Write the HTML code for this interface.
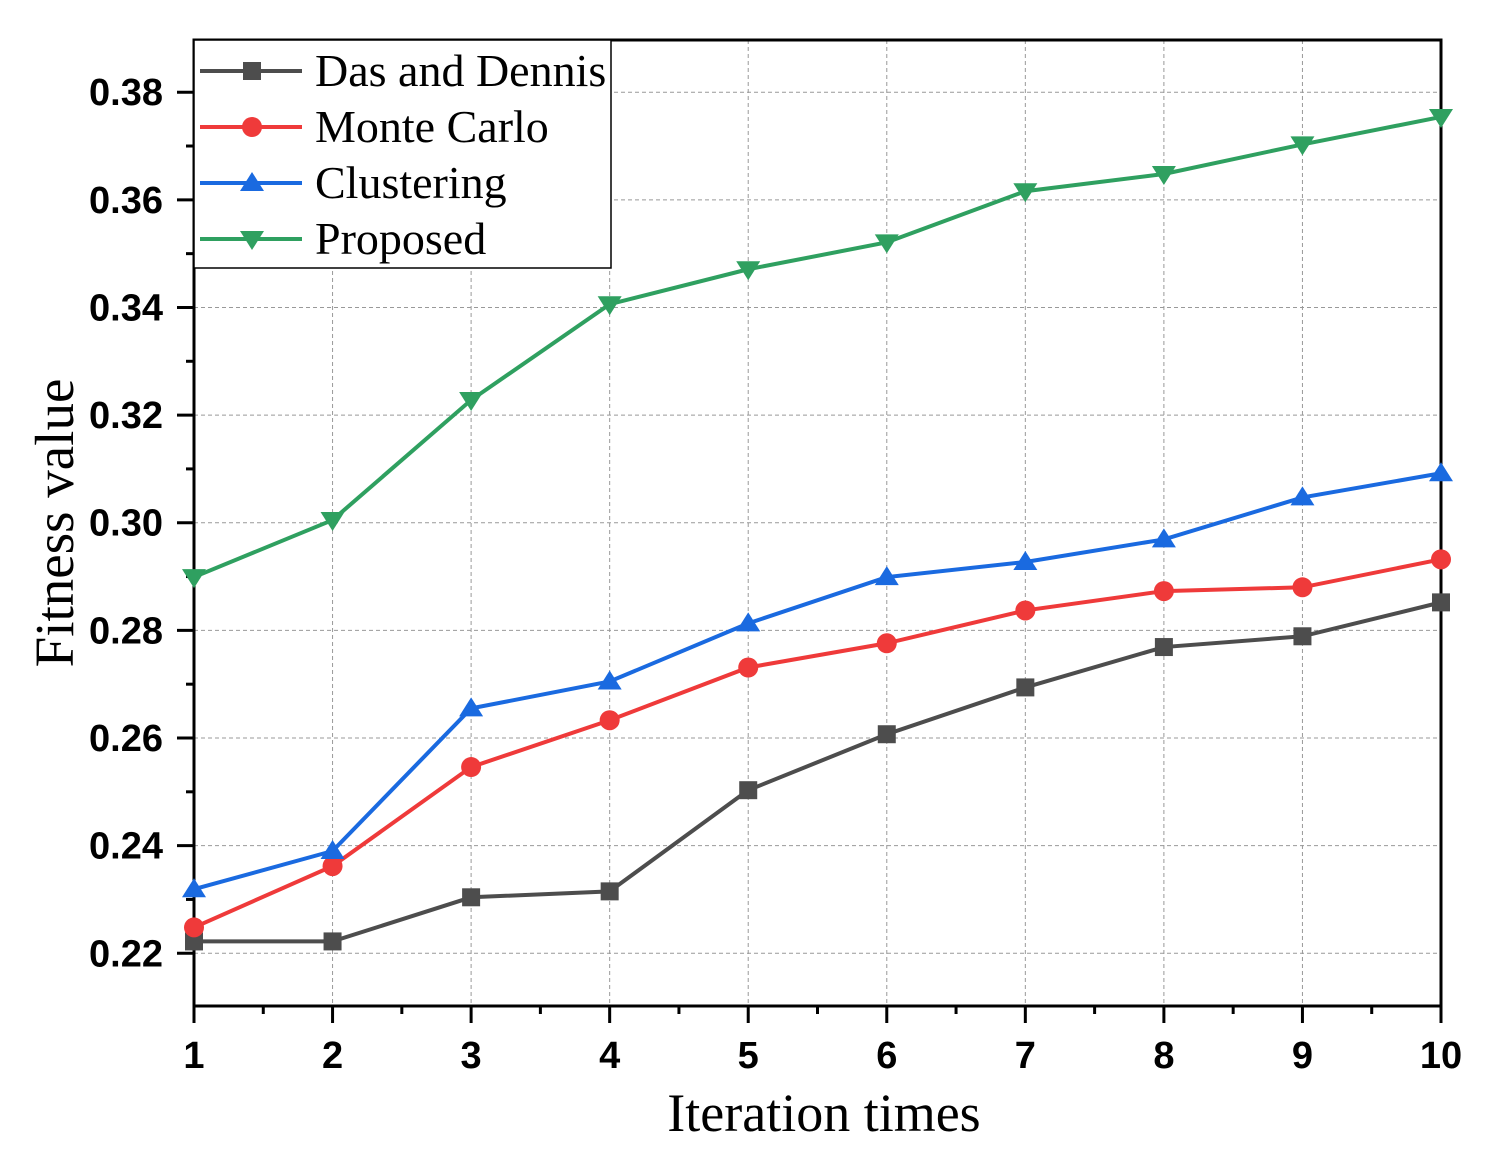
<!DOCTYPE html>
<html><head><meta charset="utf-8"><style>
html,body{margin:0;padding:0;background:#fff;}
svg{display:block;}
</style></head><body>
<svg id="chart" width="1487" height="1168" xmlns="http://www.w3.org/2000/svg"></svg>
<script>
const categories=[1,2,3,4,5,6,7,8,9,10];
const dasDennis=[0.2222,0.2222,0.2304,0.2315,0.2503,0.2607,0.2694,0.2769,0.2789,0.2852];
const monteCarlo=[0.2248,0.2362,0.2546,0.2633,0.2731,0.2776,0.2837,0.2873,0.2880,0.2932];
const clustering=[0.2319,0.2390,0.2655,0.2705,0.2813,0.2899,0.2927,0.2969,0.3047,0.3092];
const proposed=[0.2899,0.3005,0.3228,0.3406,0.3471,0.3521,0.3616,0.3648,0.3703,0.3754];
const yTicks=[0.22,0.24,0.26,0.28,0.30,0.32,0.34,0.36,0.38];
const seriesNames=["Das and Dennis","Monte Carlo","Clustering","Proposed"];

const NS="http://www.w3.org/2000/svg";
const svg=document.getElementById('chart');
const L=194,R=1441,T=40,B=1006;
const xMin=1,xMax=10,yMin=0.2102,yMax=0.3897;
const xs=v=>L+(v-xMin)/(xMax-xMin)*(R-L);
const ys=v=>B-(v-yMin)/(yMax-yMin)*(B-T);
function mk(tag,attrs,parent){const e=document.createElementNS(NS,tag);for(const k in attrs)e.setAttribute(k,attrs[k]);(parent||svg).appendChild(e);return e;}

const grid=mk('g',{});


yTicks.forEach(t=>{mk('line',{x1:L,x2:R,y1:ys(t),y2:ys(t),stroke:'#999','stroke-width':1,'stroke-dasharray':'4,3'},grid);});
categories.forEach(c=>{if(c>1&&c<10)mk('line',{x1:xs(c),x2:xs(c),y1:T,y2:B,stroke:'#999','stroke-width':1,'stroke-dasharray':'4,3'},grid);});

const axes=mk('g',{});


mk('rect',{x:L,y:T,width:R-L,height:B-T,fill:'none',stroke:'#000','stroke-width':3},axes);
for(let v=0.21;v<=0.3901;v+=0.01){const y=ys(v);if(y<T-1||y>B+1)continue;const major=Math.abs(Math.round(v*100)%2)===0;mk('line',{x1:L-(major?17:8),x2:L,y1:y,y2:y,stroke:'#000','stroke-width':3},axes);}
yTicks.forEach(t=>{const tx=mk('text',{x:163,y:ys(t)+13,'text-anchor':'end','font-family':'Liberation Sans, sans-serif','font-weight':'bold','font-size':38},axes);tx.textContent=t.toFixed(2);

});
categories.forEach(c=>{mk('line',{x1:xs(c),x2:xs(c),y1:B,y2:B+17,stroke:'#000','stroke-width':3},axes);
if(c<10)mk('line',{x1:xs(c+0.5),x2:xs(c+0.5),y1:B,y2:B+8,stroke:'#000','stroke-width':3},axes);
const tx=mk('text',{x:xs(c),y:1068,'text-anchor':'middle','font-family':'Liberation Sans, sans-serif','font-weight':'bold','font-size':38},axes);tx.textContent=c;

});
const xt=mk('text',{x:824,y:1131,'text-anchor':'middle','font-family':'Liberation Serif, serif','font-size':54});xt.textContent='Iteration times';


const yt=mk('text',{x:0,y:0,transform:'translate(73,523) rotate(-90)','text-anchor':'middle','font-family':'Liberation Serif, serif','font-size':55});yt.textContent='Fitness value';



const colors=['#4d4d4d','#ef3a3a','#1a6ae0','#2fa060'];
const markers=['square','circle','up','down'];
function marker(type,x,y,color,parent){
 if(type==='square')return mk('rect',{x:x-9,y:y-9,width:18,height:18,fill:color},parent);
 if(type==='circle')return mk('circle',{cx:x,cy:y,r:10,fill:color},parent);
 if(type==='up')return mk('polygon',{points:`${x},${y-11} ${x-12},${y+8} ${x+12},${y+8}`,fill:color},parent);
 return mk('polygon',{points:`${x},${y+11} ${x-12},${y-8} ${x+12},${y-8}`,fill:color},parent);
}
[dasDennis,monteCarlo,clustering,proposed].forEach((arr,i)=>{
 const g=mk('g',{});
 
 
 mk('polyline',{points:arr.map((v,j)=>xs(categories[j])+','+ys(v)).join(' '),fill:'none',stroke:colors[i],'stroke-width':4},g);
 arr.forEach((v,j)=>{const m=marker(markers[i],xs(categories[j]),ys(v),colors[i],g);
 
 });
});

const lg=mk('g',{});


mk('rect',{x:L,y:T,width:417,height:228,fill:'#fff',stroke:'#000','stroke-width':1.5},lg);
seriesNames.forEach((n,i)=>{
 const y=71+i*56;
 const e=mk('g',{},lg);
 
 
 mk('line',{x1:200,x2:302,y1:y,y2:y,stroke:colors[i],'stroke-width':4},e);
 marker(markers[i],252,y,colors[i],e);
 const t=mk('text',{x:315,y:y+15,'font-family':'Liberation Serif, serif','font-size':46},e);t.textContent=n;
});
</script>
</body></html>
